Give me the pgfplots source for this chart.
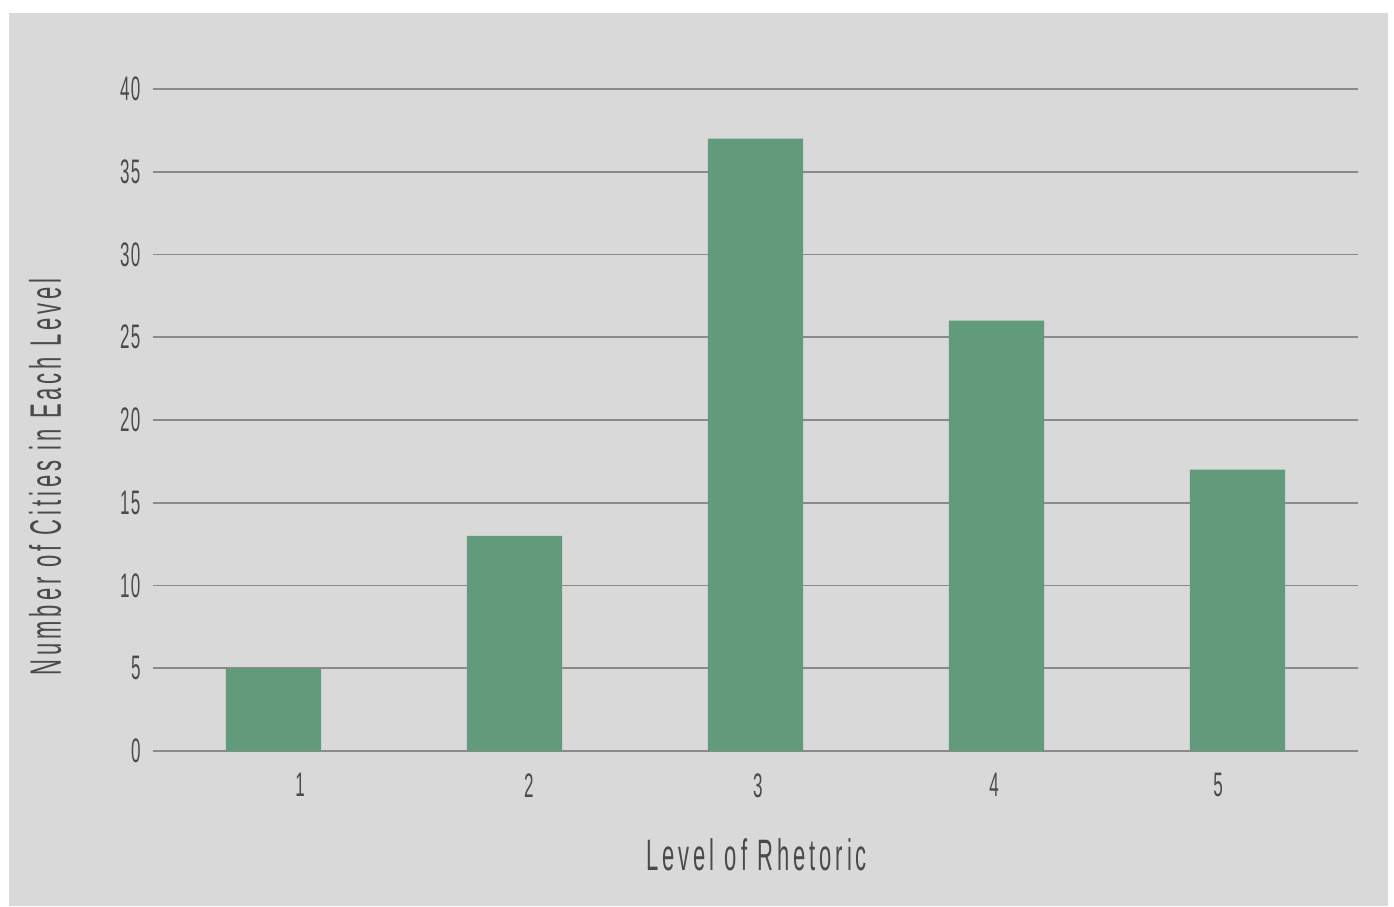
\documentclass[border=0pt]{standalone}
\usepackage{fontspec}
\usepackage{pgfplots}
\pgfplotsset{compat=1.18}
\newfontfamily\cond{Liberation Sans}[FakeStretch=0.5, LetterSpace=4]
\newfontfamily\condl{Liberation Sans}[FakeStretch=0.5, LetterSpace=9]
\definecolor{bg}{HTML}{D9D9D9}
\definecolor{barc}{HTML}{619B7C}
\definecolor{gridc}{HTML}{8A8A8A}
\definecolor{txt}{HTML}{4A4A4A}
\pgfplotstableread{
x y
0 5
1 13
2 37
3 26
4 17
}\datatable
\begin{document}
\begin{tikzpicture}[x=1pt,y=1pt]
\path[use as bounding box, fill=white] (-153,-155) rectangle (1241,751);
\fill[bg] (-144,-155) rectangle (1235,738);
\begin{axis}[
  scale only axis,
  width=1205pt, height=662pt,
  at={(0,0)}, anchor=south west,
  xmin=-0.5, xmax=4.5,
  ymin=0, ymax=40,
  axis lines*=left,
  axis line style={draw=none},
  ytick={0,5,...,40},
  xtick={0.11,1.06,2.01,2.99,3.92},
  xticklabels={1,2,3,4,5},
  major tick length=0pt,
  ymajorgrids,
  grid style={gridc, line width=1.6pt},
  /pgf/number format/assume math mode=true,
  ticklabel style={font=\cond\fontsize{34}{34}\selectfont, text=txt},
  yticklabel style={xshift=-9pt},
  xticklabel style={yshift=-19pt},
  xlabel={Level of Rhetoric},
  ylabel={Number of Cities in Each Level},
  label style={font=\condl\fontsize{44}{44}\selectfont, text=txt},
  xlabel style={at={(axis description cs:0.501,-0.157)}, anchor=center},
  ylabel style={at={(axis description cs:-0.0896,0.414)}, anchor=center},
  clip=false,
]
\addplot[ybar, bar width=0.395, fill=barc, draw=none] table[x=x,y=y]{\datatable};
\end{axis}
\end{tikzpicture}
\end{document}
